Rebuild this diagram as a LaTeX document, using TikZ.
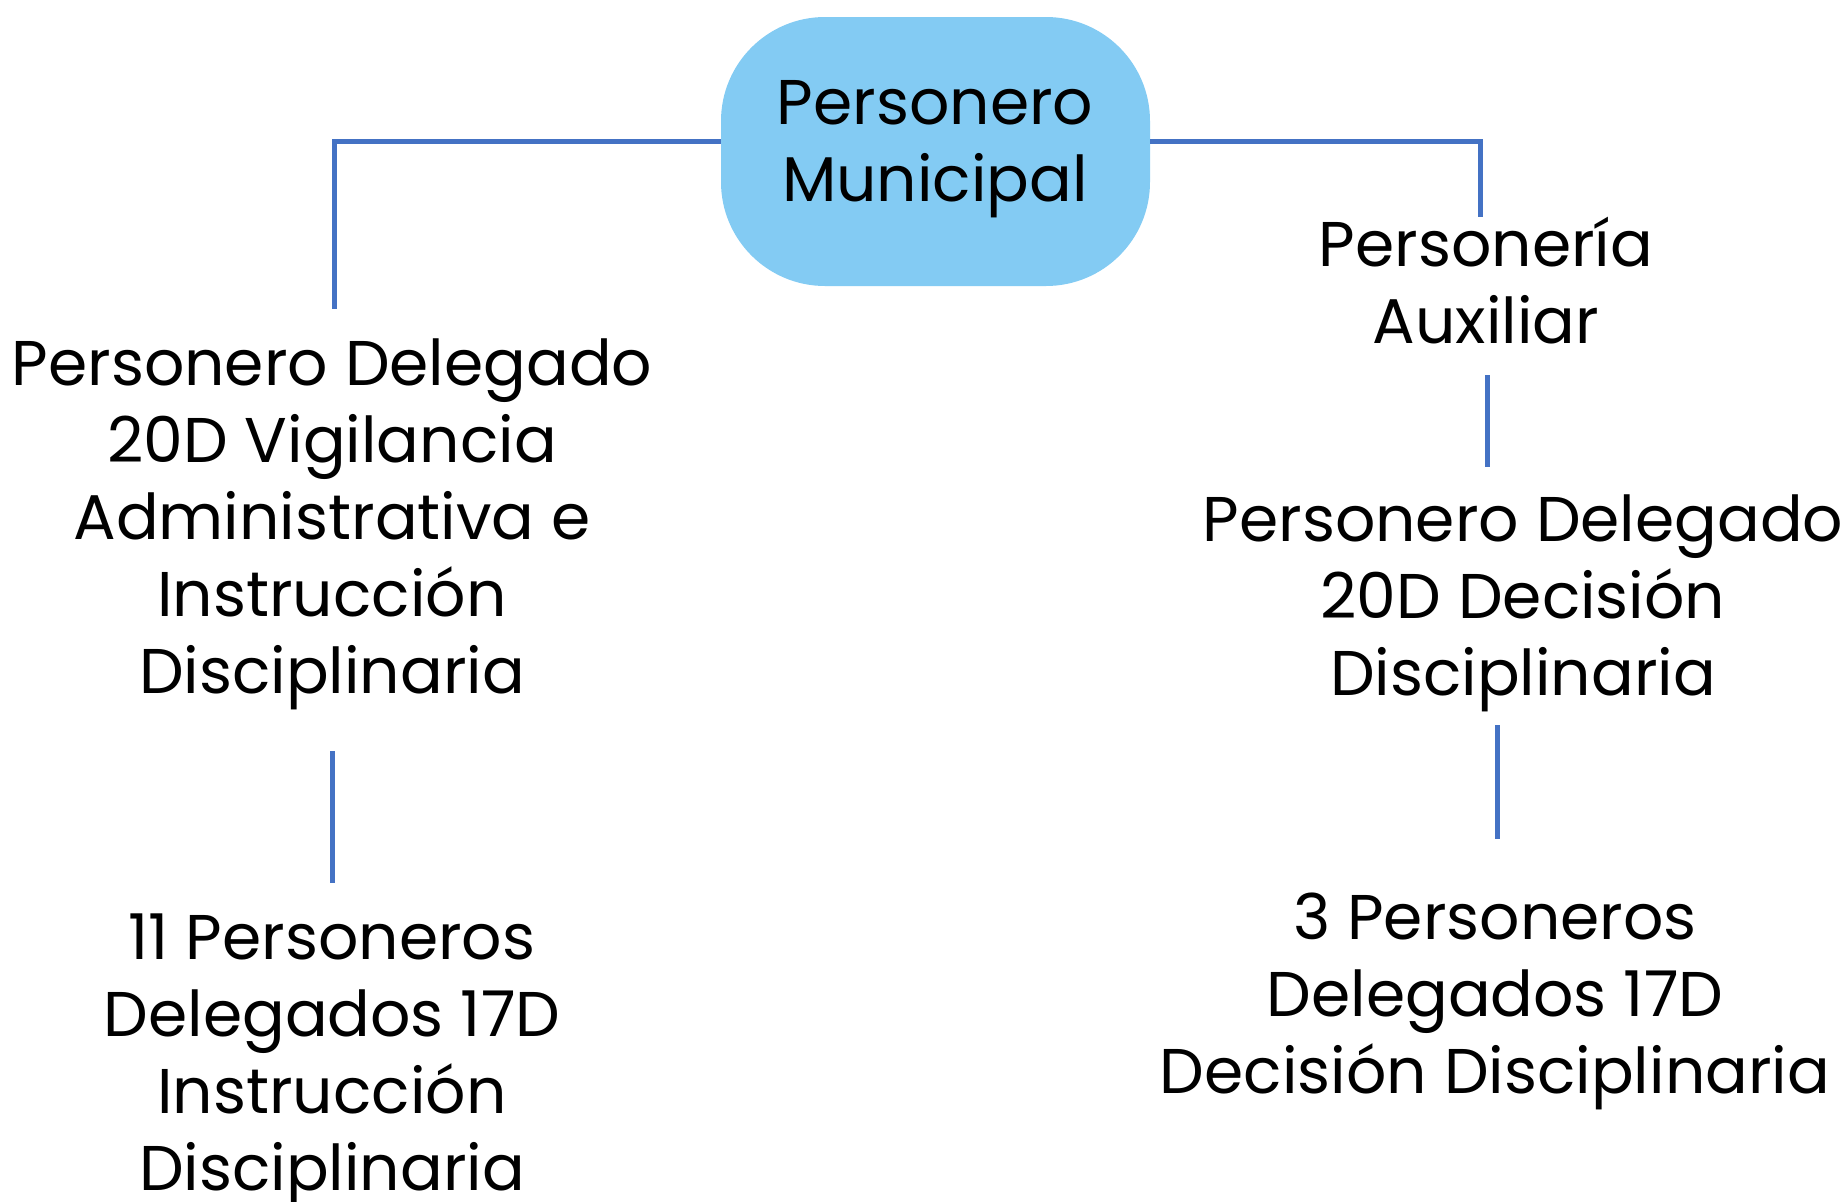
\documentclass[tikz,border=0pt]{standalone}
\usepackage{fontspec}
\setmainfont{Poppins}
\definecolor{boxblue}{HTML}{83CBF3}
\definecolor{linkblue}{HTML}{4472C4}
\begin{document}
\begin{tikzpicture}[x=0.5pt,y=-0.5pt,
  lbl/.style={align=center, inner sep=0pt, anchor=base, font=\fontsize{31.6pt}{38.5pt}\selectfont},
  conn/.style={draw=linkblue, line width=2.5pt, line join=miter},
  headbox/.style={fill=boxblue, rounded corners=52pt, minimum width=214.5pt, minimum height=134.5pt, inner sep=0pt}]
\useasboundingbox (0,0) rectangle (1848,1201);
% head (anchor base = baseline of the last line)
\node[headbox] (head) at (935.5,151.5) {};
\node[lbl] (headtxt) at (935,201) {Personero\\Municipal};
% text nodes
\node[lbl] (aux) at (1486,343) {Personería\\Auxiliar};
\node[lbl] (rdel) at (1523,695) {Personero Delegado\\20D Decisión\\Disciplinaria};
\node[lbl] (rthree) at (1495,1093) {3 Personeros\\Delegados 17D\\Decisión Disciplinaria};
\node[lbl] (ldel) at (332,693) {Personero Delegado\\20D Vigilancia\\Administrativa e\\Instrucción\\Disciplinaria};
\node[lbl] (leleven) at (332,1190) {11 Personeros\\Delegados 17D\\Instrucción\\Disciplinaria};
% connector points
\coordinate (jL) at (334,141);
\coordinate (jR) at (1480,141);
\coordinate (endL) at (334,309);
\coordinate (endR) at (1480,217);
\coordinate (r1a) at (1487,375);
\coordinate (r1b) at (1487,467);
\coordinate (r2a) at (1497,725);
\coordinate (r2b) at (1497,839);
\coordinate (l1a) at (332,751);
\coordinate (l1b) at (332,883);
% connectors
\draw[conn] (jL -| head.west) -- (jL) -- (endL);
\draw[conn] (jR -| head.east) -- (jR) -- (endR);
\draw[conn] (r1a) -- (r1b);
\draw[conn] (r2a) -- (r2b);
\draw[conn] (l1a) -- (l1b);
\end{tikzpicture}
\end{document}
